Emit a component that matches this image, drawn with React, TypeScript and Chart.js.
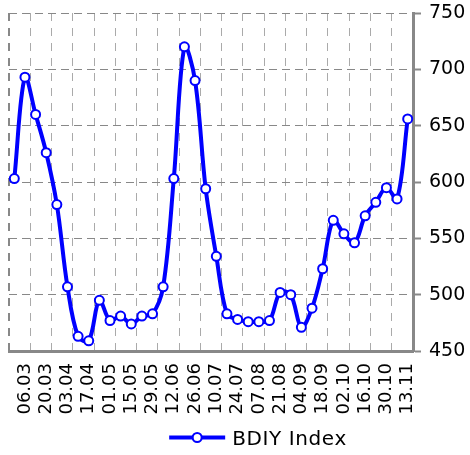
import React, { useEffect, useRef } from 'react';
import { Chart, registerables } from 'chart.js';

Chart.register(...registerables);

const weekLabels: string[] = [
  '27.02', '06.03', '13.03', '20.03', '27.03', '03.04', '10.04', '17.04', '24.04', '01.05',
  '08.05', '15.05', '22.05', '29.05', '05.06', '12.06', '19.06', '26.06', '03.07', '10.07',
  '17.07', '24.07', '31.07', '07.08', '14.08', '21.08', '28.08', '04.09', '11.09', '18.09',
  '25.09', '02.10', '09.10', '16.10', '23.10', '30.10', '06.11', '13.11',
];

const bdiyValues: number[] = [
  603, 693, 660, 626, 580, 507, 463, 459, 495, 477,
  481, 474, 481, 483, 507, 603, 720, 690, 594, 534,
  483, 478, 476, 476, 477, 502, 500, 471, 488, 523,
  566, 554, 546, 570, 582, 595, 585, 656,
];

const seriesName = 'BDIY Index';
const yMin = 450;
const yMax = 750;
const yStep = 50;

const BLUE = '#0000FF';
const FONT = 'DejaVu Sans';

const lineLegend = {
  id: 'lineLegend',
  afterDraw(chart: any) {
    const ctx: CanvasRenderingContext2D = chart.ctx;
    const ds = chart.data.datasets[0];
    ctx.save();
    ctx.font = `20px "${FONT}"`;
    (ctx as any).letterSpacing = '0.6px';
    const text: string = ds.label;
    const tw = ctx.measureText(text).width;
    const lineW = 56;
    const gap = 7;
    const total = lineW + gap + tw;
    const x0 = chart.width / 2 + 23 - total / 2;
    const cy = chart.height - 17.5;
    ctx.strokeStyle = BLUE;
    ctx.lineWidth = 4;
    ctx.beginPath();
    ctx.moveTo(x0, cy);
    ctx.lineTo(x0 + lineW, cy);
    ctx.stroke();
    ctx.beginPath();
    ctx.arc(x0 + lineW / 2, cy, 4.5, 0, Math.PI * 2);
    ctx.fillStyle = '#fff';
    ctx.fill();
    ctx.lineWidth = 2;
    ctx.stroke();
    ctx.fillStyle = '#000';
    ctx.textBaseline = 'middle';
    ctx.textAlign = 'left';
    ctx.fillText(text, x0 + lineW + gap, cy + 2.5);
    ctx.restore();
  },
};

export default function App() {
  const ref = useRef<HTMLCanvasElement>(null);

  useEffect(() => {
    document.body.style.margin = '0';
    if (!ref.current) return;

    const chart = new Chart(ref.current, {
      type: 'line',
      data: {
        labels: weekLabels,
        datasets: [
          {
            label: seriesName,
            data: bdiyValues,
            borderColor: BLUE,
            borderWidth: 4,
            pointRadius: 4.5,
            pointBorderWidth: 2,
            pointBackgroundColor: '#fff',
            pointBorderColor: BLUE,
            tension: 0.35,
            fill: false,
          },
        ],
      },
      plugins: [lineLegend],
      options: {
        responsive: false,
        animation: false,
        events: [],
        layout: { padding: { left: 9, top: 13, right: 0, bottom: 36 } },
        plugins: {
          title: { display: false },
          tooltip: { enabled: false },
          legend: { display: false },
        },
        scales: {
          x: {
            type: 'category',
            offset: true,
            grid: {
              offset: true,
              drawTicks: false,
              color: (ctx: any) => {
                if (ctx.index === undefined) return 'rgba(0,0,0,0)';
                if (ctx.index === 0) return '#888';
                return ctx.index % 2 === 0 ? '#aaa' : 'rgba(0,0,0,0)';
              },
              lineWidth: (ctx: any) => (ctx.index === 0 ? 2 : 1),
            },
            border: { color: '#888', width: 3, dash: [8, 7] },
            ticks: {
              autoSkip: false,
              minRotation: 90,
              maxRotation: 90,
              padding: 12,
              color: '#000',
              font: { family: FONT, size: 18 },
              callback: (_v: any, i: number) => (i % 2 === 1 ? weekLabels[i] : ''),
            },
            afterFit: (s: any) => {
              s.height = 68;
              s.paddingLeft = 0;
              s.paddingRight = 0;
            },
          },
          y: {
            position: 'right',
            min: yMin,
            max: yMax,
            ticks: {
              stepSize: yStep,
              padding: 8,
              color: '#000',
              font: { family: FONT, size: 19 },
            },
            grid: {
              color: '#888',
              lineWidth: 1,
              tickLength: 8,
              tickColor: '#888',
              tickWidth: 2,
              tickBorderDash: [],
            },
            border: { color: '#888', width: 3, dash: [8, 5] },
            afterFit: (s: any) => {
              s.width = 57;
              s.paddingTop = 0;
              s.paddingBottom = 0;
            },
          },
        },
      },
    });

    return () => chart.destroy();
  }, []);

  return (
    <div style={{ position: 'absolute', left: 0, top: 0, width: 470, height: 455 }}>
      <canvas ref={ref} width={470} height={455} style={{ display: 'block' }} />
    </div>
  );
}
